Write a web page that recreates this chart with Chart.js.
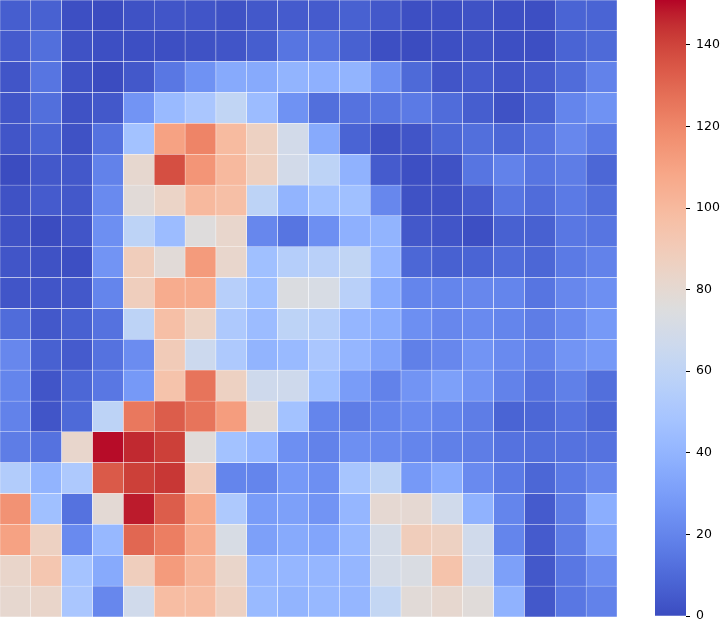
<!DOCTYPE html>
<html>
<head>
<meta charset="utf-8">
<script src="https://cdn.jsdelivr.net/npm/chart.js@4"></script>
<style>
  html, body { margin: 0; padding: 0; background: #fff; }
  #wrap { position: relative; width: 721px; height: 624px; overflow: hidden; }
  #heat { position: absolute; left: 0; top: 0; }
  #bar { position: absolute; left: 655px; top: 0; }
</style>
</head>
<body>
<div id="wrap">
  <canvas id="heat" width="617" height="617"></canvas>
  <canvas id="bar" width="66" height="624"></canvas>
</div>
<script>
// heatmap values, row 0 is the top row
const rowValues = [
    [6, 7, 1, 0, 2, 3, 3, 2, 4, 5, 5, 7, 4, 1, 1, 2, 1, 1, 8, 8],
    [5, 12, 2, 1, 1, 1, 2, 3, 6, 14, 13, 7, 1, 0, 1, 2, 1, 1, 8, 10],
    [3, 14, 2, 0, 4, 15, 25, 35, 35, 40, 38, 40, 24, 10, 3, 5, 3, 5, 11, 19],
    [3, 12, 2, 4, 26, 43, 50, 61, 44, 25, 12, 13, 14, 16, 11, 6, 2, 7, 20, 25],
    [3, 8, 2, 13, 47, 110, 121, 99, 86, 69, 35, 8, 2, 3, 9, 12, 9, 13, 21, 16],
    [0, 4, 4, 19, 81, 137, 115, 100, 87, 69, 59, 39, 5, 1, 2, 14, 19, 14, 17, 9],
    [2, 5, 4, 22, 78, 84, 100, 97, 59, 40, 46, 46, 21, 2, 2, 5, 14, 11, 16, 12],
    [2, 0, 3, 24, 59, 44, 76, 82, 21, 14, 24, 38, 40, 4, 3, 1, 7, 7, 15, 14],
    [3, 2, 1, 26, 89, 78, 113, 82, 46, 55, 57, 61, 41, 9, 7, 8, 11, 9, 16, 19],
    [3, 3, 4, 20, 88, 106, 106, 56, 46, 74, 72, 57, 36, 20, 20, 21, 20, 14, 21, 24],
    [11, 4, 7, 13, 59, 97, 85, 52, 44, 59, 55, 41, 36, 24, 21, 22, 20, 17, 22, 28],
    [21, 7, 5, 13, 23, 90, 66, 52, 40, 43, 50, 41, 32, 18, 21, 26, 22, 19, 26, 28],
    [20, 3, 9, 15, 28, 95, 126, 86, 67, 67, 46, 29, 19, 26, 31, 26, 19, 13, 18, 12],
    [19, 3, 10, 59, 125, 133, 126, 112, 78, 47, 20, 17, 20, 22, 20, 17, 8, 9, 13, 9],
    [17, 13, 82, 150, 146, 141, 77, 47, 41, 24, 19, 24, 22, 20, 18, 17, 13, 12, 13, 13],
    [54, 40, 52, 134, 141, 143, 90, 20, 20, 28, 24, 49, 59, 28, 36, 22, 16, 9, 16, 21],
    [116, 46, 13, 79, 148, 133, 107, 52, 29, 31, 26, 41, 80, 80, 68, 39, 20, 5, 17, 37],
    [110, 86, 22, 42, 130, 123, 106, 72, 31, 35, 33, 42, 70, 89, 86, 68, 20, 5, 17, 33],
    [83, 93, 48, 35, 88, 113, 102, 83, 41, 41, 41, 41, 70, 73, 95, 69, 31, 4, 15, 23],
    [81, 83, 50, 21, 68, 98, 98, 86, 43, 40, 42, 41, 62, 78, 81, 77, 39, 4, 15, 19]
];
const columnLabels = rowValues[0].map((_, i) => String(i));
const colorbarTicks = [0, 20, 40, 60, 80, 100, 120, 140];
const vmin = 0;
const vmax = 151;

// coolwarm colormap control points
const coolwarm = [
    [59, 76, 192], [68, 90, 204], [77, 104, 215], [87, 117, 225], [98, 130, 234],
    [108, 142, 241], [119, 154, 247], [130, 165, 251], [141, 176, 254], [152, 185, 255],
    [163, 194, 255], [174, 201, 253], [184, 208, 249], [194, 213, 244], [204, 217, 238],
    [213, 219, 230], [221, 221, 221], [229, 216, 209], [236, 211, 197], [241, 204, 185],
    [245, 196, 173], [247, 187, 160], [247, 177, 148], [247, 166, 135], [244, 154, 123],
    [241, 141, 111], [236, 127, 99], [229, 112, 88], [222, 96, 77], [213, 80, 66],
    [203, 62, 56], [192, 40, 47], [180, 4, 38]
];

function cmap(t) {
    t = Math.min(1, Math.max(0, t));
    const p = t * (coolwarm.length - 1);
    const i = Math.min(coolwarm.length - 2, Math.floor(p));
    const f = p - i;
    const a = coolwarm[i], b = coolwarm[i + 1];
    const c = a.map((v, k) => Math.round(v + (b[k] - v) * f));
    return `rgb(${c[0]},${c[1]},${c[2]})`;
}

function colorFor(v) {
    return cmap((v - vmin) / (vmax - vmin));
}

// stacked bars, bottom row first so the top row ends up on top
const heatDatasets = [];
for (let r = rowValues.length - 1; r >= 0; r--) {
    heatDatasets.push({
        label: 'row ' + r,
        data: rowValues[r].map(() => 1),
        backgroundColor: rowValues[r].map(colorFor),
        borderColor: '#ffffff',
        borderWidth: 0.5,
        borderSkipped: false,
        barPercentage: 1,
        categoryPercentage: 1
    });
}

new Chart(document.getElementById('heat').getContext('2d'), {
    type: 'bar',
    data: { labels: columnLabels, datasets: heatDatasets },
    options: {
        responsive: false,
        animation: false,
        layout: { padding: 0 },
        plugins: { legend: { display: false }, tooltip: { enabled: false } },
        scales: {
            x: { stacked: true, display: false },
            y: { stacked: true, display: false, min: 0, max: rowValues.length }
        }
    }
});

// colorbar
new Chart(document.getElementById('bar').getContext('2d'), {
    type: 'bar',
    data: {
        labels: [''],
        datasets: [{
            data: [vmax],
            barPercentage: 1,
            categoryPercentage: 1,
            borderWidth: 0,
            backgroundColor: (ctx) => {
                const area = ctx.chart.chartArea;
                if (!area) return colorFor(vmax);
                const g = ctx.chart.ctx.createLinearGradient(0, area.bottom, 0, area.top);
                for (let i = 0; i <= 50; i++) {
                    g.addColorStop(i / 50, cmap(i / 50));
                }
                return g;
            }
        }]
    },
    options: {
        responsive: false,
        animation: false,
        layout: { padding: { top: 0, bottom: 8, left: 0, right: 0 } },
        plugins: { legend: { display: false }, tooltip: { enabled: false } },
        scales: {
            x: { display: false },
            y: {
                position: 'right',
                min: vmin,
                max: vmax,
                afterBuildTicks: (scale) => {
                    scale.ticks = colorbarTicks.map(v => ({ value: v }));
                },
                afterFit: (scale) => {
                    scale.width = 35;
                    scale.paddingTop = 0;
                    scale.paddingBottom = 0;
                },
                border: { display: false },
                grid: { drawOnChartArea: false, drawTicks: true, tickLength: 4, color: '#000', lineWidth: 1 },
                ticks: {
                    padding: 6,
                    color: '#000',
                    font: { family: 'DejaVu Sans', size: 12.5 }
                }
            }
        }
    }
});
</script>
</body>
</html>
